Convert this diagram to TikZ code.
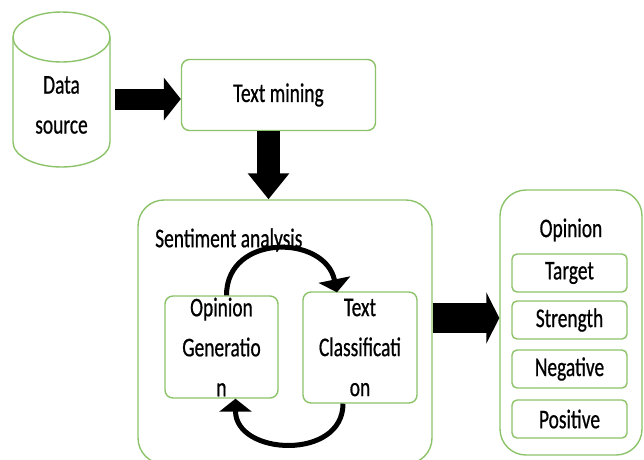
\documentclass[tikz,border=0pt]{standalone}
\usepackage{fontspec}
\setmainfont[FakeStretch=0.72,FakeBold=0.6]{Carlito}
\usetikzlibrary{arrows.meta}
\definecolor{boxgreen}{RGB}{140,195,105}
\tikzset{
  gbox/.style={draw=boxgreen, line width=1.4pt, rounded corners=8pt, fill=white},
  bigbox/.style={draw=boxgreen, line width=1.4pt, rounded corners=26pt},
  txt/.style={font=\fontsize{27}{40}\selectfont, align=center, inner sep=0pt},
  blk/.style={line width=#1, draw=black},
  curv/.style={line width=5pt, -{Triangle[length=13pt,width=32pt]}},
}
\begin{document}
\begin{tikzpicture}[x=1pt,y=-1pt]
\path[use as bounding box] (0,0) rectangle (644,459);
\clip (0,0) rectangle (644,459);
% data source cylinder
\draw[draw=boxgreen, line width=1.4pt, fill=white]
  (13,37) -- (13,142) arc[start angle=180, end angle=0, x radius=48.5, y radius=25] -- (110,37);
\draw[draw=boxgreen, line width=1.4pt] (61.5,37) ellipse[x radius=48.5, y radius=25];
\node[txt, minimum width=97, minimum height=90] (ds) at (61.5,105) {Data\\source};
% text mining
\node[gbox, minimum width=194, minimum height=71, inner sep=0pt] (tm) at (278.5,95) {};
\node[txt] at (tm) {Text mining};
% sentiment analysis big box
\node[bigbox, minimum width=294, minimum height=264, inner sep=0pt] (sa) at (285,332) {};
\node[txt, anchor=west] (satxt) at (155,240) {Sentiment analysis};
\node[gbox, minimum width=113, minimum height=102, inner sep=0pt] (og) at (221.5,347) {};
\node[txt] at (og) {Opinion\\Generatio\\n};
\node[gbox, minimum width=114, minimum height=111, inner sep=0pt] (tc) at (360,347.5) {};
\node[txt] at (tc) {Text\\Classificati\\on};
% opinion box
\node[bigbox, minimum width=142, minimum height=265, inner sep=0pt] (op) at (571,322.5) {};
\node[txt] at (571,230) {Opinion};
\node[gbox, rounded corners=5pt, minimum width=115, minimum height=38, inner sep=0pt] (tg) at (569.5,273) {};
\node[txt] at (tg) {Target};
\node[gbox, rounded corners=5pt, minimum width=115, minimum height=38, inner sep=0pt] (st) at (569.5,320) {};
\node[txt] at (st) {Strength};
\node[gbox, rounded corners=5pt, minimum width=115, minimum height=38, inner sep=0pt] (ng) at (569.5,369) {};
\node[txt] at (ng) {Negative};
\node[gbox, rounded corners=5pt, minimum width=115, minimum height=38, inner sep=0pt] (ps) at (569.5,419) {};
\node[txt] at (ps) {Positive};
% block arrows
\draw[blk=21pt, -{Triangle[length=17pt,width=42pt]}] ([xshift=5]ds.east |- 0,99) -- (tm.west |- 0,99);
\draw[blk=23pt, -{Triangle[length=26pt,width=40pt]}] ([xshift=-10]tm.south) -- ([xshift=-10]tm.south |- sa.north);
\draw[blk=30pt, -{Triangle[length=13pt,width=51pt]}] (sa.east |- 0,318) -- (op.west |- 0,318);
% curved arrows
\draw[curv] ([xshift=5]og.north) .. controls +(0,-62) and +(-12,-58) .. ([xshift=-23,yshift=-1]tc.north);
\draw[curv] ([xshift=-17]tc.south) .. controls +(0,57) and +(0,57) .. ([xshift=14]og.south);
\end{tikzpicture}
\end{document}
